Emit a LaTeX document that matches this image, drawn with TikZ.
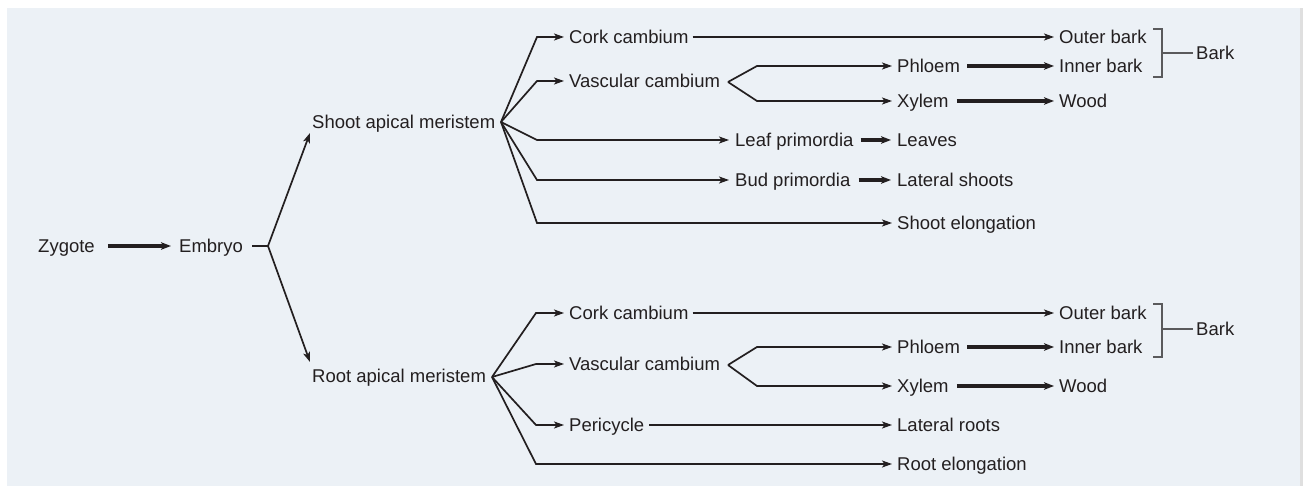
\documentclass[tikz,border=0pt]{standalone}
\usepackage{fontspec}
\setmainfont{Liberation Sans}
\usetikzlibrary{arrows.meta}
\definecolor{panel}{HTML}{ECF1F6}
\definecolor{ink}{HTML}{231F20}
\definecolor{brk}{HTML}{5A5A5C}
\begin{document}
\begin{tikzpicture}[x=1pt,y=-1pt,
  lbl/.style={anchor=west,inner sep=0pt,text height=13.2pt,text depth=0pt,text=ink,font=\fontsize{18.5}{22}\selectfont},
  thinline/.style={draw=ink,line width=1.7pt,line join=miter},
  thinarr/.style={thinline,-{Stealth[length=10pt,width=7pt,inset=2.5pt]}},
  medarr/.style={draw=ink,line width=2.5pt,-{Stealth[length=10pt,width=7pt,inset=2.5pt]}},
  thickarr/.style={draw=ink,line width=3.2pt,-{Stealth[length=10pt,width=7.5pt,inset=2.5pt]}},
  bracket/.style={draw=brk,line width=1.6pt}
]
\useasboundingbox (0,0) rectangle (1309,486);
\fill[white] (0,0) rectangle (1309,486);
\fill[panel] (7,8) rectangle (1300,486);
\fill[gray!25] (1300,8) rectangle (1303,486);

% left part
\node[lbl] (zyg) at (38,246) {Zygote};
\node[lbl] (emb) at (179,246) {Embryo};
\node[lbl] (sam) at (312,122) {Shoot apical meristem};
\node[lbl] (ram) at (312,376) {Root apical meristem};
\coordinate (eb) at (268,246);
\draw[thickarr] ([xshift=13pt]zyg.east) -- ([xshift=-8pt]emb.west);
\draw[thinline] ([xshift=9pt]emb.east) -- (eb);
\draw[thinarr] (eb) -- ([shift={(-2,11)}]sam.west);
\draw[thinarr] (eb) -- ([shift={(-2,-14)}]ram.west);

% shoot branch
\node[lbl] (scork) at (569,37) {Cork cambium};
\node[lbl] (svasc) at (569,81) {Vascular cambium};
\node[lbl] (sleafp) at (735,140) {Leaf primordia};
\node[lbl] (sbudp) at (735,180) {Bud primordia};
\node[lbl] (sel) at (897,223) {Shoot elongation};
\node[lbl] (souter) at (1059,37) {Outer bark};
\node[lbl] (sphl) at (897,66) {Phloem};
\node[lbl] (sinner) at (1059,66) {Inner bark};
\node[lbl] (sxyl) at (897,101) {Xylem};
\node[lbl] (swood) at (1059,101) {Wood};
\node[lbl] (sleaves) at (897,140) {Leaves};
\node[lbl] (slat) at (897,180) {Lateral shoots};
\node[lbl] (sbark) at (1196,53) {Bark};

\coordinate (sf) at (501,122);
\draw[thinarr] (sf) -- (537,37) -- ([xshift=-5pt]scork.west);
\draw[thinarr] (sf) -- (537,81) -- ([xshift=-5pt]svasc.west);
\draw[thinarr] (sf) -- (537,140) -- ([xshift=-6pt]sleafp.west);
\draw[thinarr] (sf) -- (537,180) -- ([xshift=-6pt]sbudp.west);
\draw[thinarr] (sf) -- (537,223) -- ([xshift=-5pt]sel.west);
\draw[thinarr] ([xshift=4pt]scork.east) -- ([xshift=-5pt]souter.west);
\coordinate (svf) at (728,82);
\draw[thinarr] (svf) -- (757,66) -- ([xshift=-5pt]sphl.west);
\draw[thinarr] (svf) -- (757,101) -- ([xshift=-5pt]sxyl.west);
\draw[thickarr] ([xshift=7pt]sphl.east) -- ([xshift=-5pt]sinner.west);
\draw[thickarr] ([xshift=8pt]sxyl.east) -- ([xshift=-5pt]swood.west);
\draw[thickarr] ([xshift=7pt]sleafp.east) -- ([xshift=-6pt]sleaves.west);
\draw[thickarr] ([xshift=8pt]sbudp.east) -- ([xshift=-6pt]slat.west);
\draw[bracket] (1153,29) -- (1162,29) -- (1162,77) -- (1153,77);
\draw[bracket] (1162,53) -- ([xshift=-3pt]sbark.west);

% root branch
\node[lbl] (rcork) at (569,313) {Cork cambium};
\node[lbl] (rvasc) at (569,364) {Vascular cambium};
\node[lbl] (rperi) at (569,425) {Pericycle};
\node[lbl] (rel) at (897,464) {Root elongation};
\node[lbl] (router) at (1059,313) {Outer bark};
\node[lbl] (rphl) at (897,347) {Phloem};
\node[lbl] (rinner) at (1059,347) {Inner bark};
\node[lbl] (rxyl) at (897,386) {Xylem};
\node[lbl] (rwood) at (1059,386) {Wood};
\node[lbl] (rlat) at (897,425) {Lateral roots};
\node[lbl] (rbark) at (1196,329) {Bark};

\coordinate (rf) at (492,377);
\draw[thinarr] (rf) -- (536,313) -- ([xshift=-5pt]rcork.west);
\draw[thinarr] (rf) -- (536,364) -- ([xshift=-5pt]rvasc.west);
\draw[thinarr] (rf) -- (536,425) -- ([xshift=-5pt]rperi.west);
\draw[thinarr] (rf) -- (536,464) -- ([xshift=-5pt]rel.west);
\draw[medarr] ([xshift=4pt]rcork.east) -- ([xshift=-5pt]router.west);
\draw[thinarr] ([xshift=5pt]rperi.east) -- ([xshift=-5pt]rlat.west);
\coordinate (rvf) at (728,365);
\draw[thinarr] (rvf) -- (757,347) -- ([xshift=-5pt]rphl.west);
\draw[thinarr] (rvf) -- (757,386) -- ([xshift=-5pt]rxyl.west);
\draw[thickarr] ([xshift=7pt]rphl.east) -- ([xshift=-5pt]rinner.west);
\draw[thickarr] ([xshift=8pt]rxyl.east) -- ([xshift=-5pt]rwood.west);
\draw[bracket] (1153,304) -- (1162,304) -- (1162,357) -- (1153,357);
\draw[bracket] (1162,329) -- ([xshift=-3pt]rbark.west);
\end{tikzpicture}
\end{document}
